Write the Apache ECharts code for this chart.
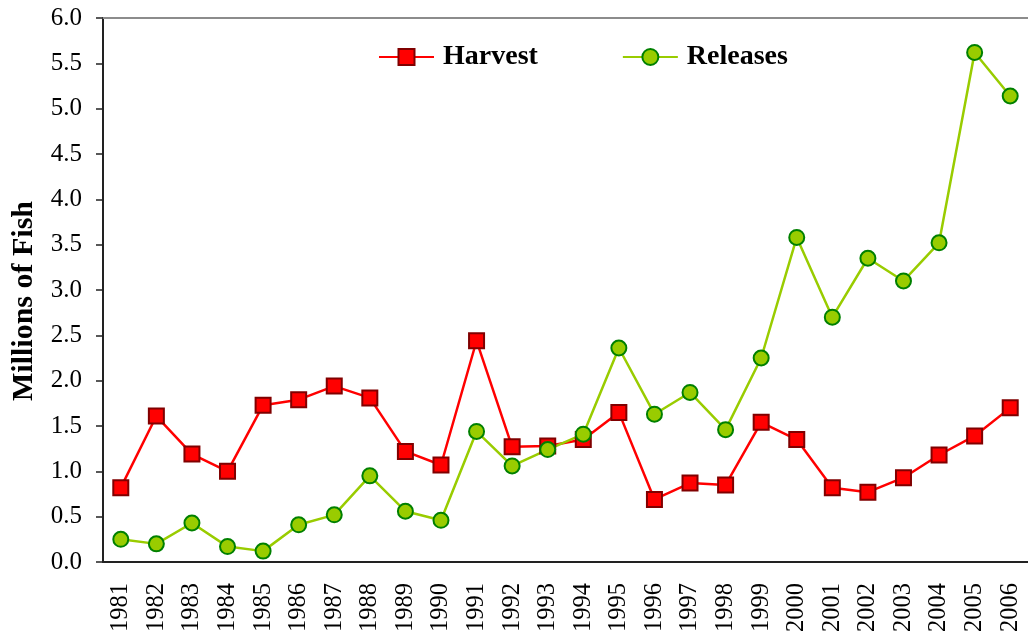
<!DOCTYPE html>
<html>
	<head>
		<meta charset="utf-8" />
		<title>Harvest and Releases</title>
		<script src="https://cdn.jsdelivr.net/npm/echarts@6/dist/echarts.min.js"></script>
		<style>
			* {
				margin: 0;
				padding: 0;
			}
			body {
				background: #fff;
			}
		</style>
	</head>
	<body>
		<div id="main" style="width: 1028px; height: 637px"></div>
		<script>
			// years on the x axis
			var years = ['1981', '1982', '1983', '1984', '1985', '1986', '1987', '1988', '1989', '1990', '1991', '1992', '1993',
				'1994', '1995', '1996', '1997', '1998', '1999', '2000', '2001', '2002', '2003', '2004', '2005', '2006'];
			// millions of fish
			var harvest = [0.82, 1.61, 1.19, 1.0, 1.73, 1.79, 1.94, 1.81, 1.22, 1.07, 2.44, 1.27, 1.28,
				1.35, 1.65, 0.69, 0.87, 0.85, 1.54, 1.35, 0.82, 0.77, 0.93, 1.18, 1.39, 1.7];
			var releases = [0.25, 0.2, 0.43, 0.17, 0.12, 0.41, 0.52, 0.95, 0.56, 0.46, 1.44, 1.06, 1.24,
				1.41, 2.36, 1.63, 1.87, 1.46, 2.25, 3.58, 2.7, 3.35, 3.1, 3.52, 5.62, 5.14];

			var font = 'Liberation Serif, Times New Roman, serif';
			var myChart = echarts.init(document.getElementById('main'));
			var option = {
				animation: false,
				textStyle: {fontFamily: font},
				grid: {
					left: 103,
					top: 18,
					right: -8,
					bottom: 75,
				},
				legend: {
					top: 43,
					left: 378,
					padding: 0,
					itemWidth: 55,
					itemHeight: 20,
					itemGap: 84,
					textStyle: {fontFamily: font, fontSize: 28, fontWeight: 'bold', color: '#000', padding: [0, 0, 0, 4]},
					data: ['Harvest', 'Releases'],
				},
				xAxis: [
					{
						type: 'category',
						data: years,
						boundaryGap: true,
						axisLine: {lineStyle: {color: '#222', width: 2}},
						axisTick: {length: 8, lineStyle: {color: '#222', width: 1.5}},
						axisLabel: {
							rotate: 90,
							margin: 21,
							interval: 0,
							fontFamily: font,
							fontSize: 24.5,
							color: '#000',
						},
					},
					{
						type: 'category',
						data: years,
						position: 'top',
						axisLine: {lineStyle: {color: '#8c8c8c', width: 2}},
						axisTick: {show: false},
						axisLabel: {show: false},
					},
				],
				yAxis: {
					type: 'value',
					min: 0,
					max: 6,
					interval: 0.5,
					name: 'Millions of Fish',
					nameLocation: 'middle',
					nameGap: 64,
					nameTextStyle: {fontFamily: font, fontSize: 30, fontWeight: 'bold', color: '#000', padding: [0, 22, 0, 0]},
					axisLine: {show: true, lineStyle: {color: '#222', width: 2}},
					axisTick: {show: true, length: 7, lineStyle: {color: '#222', width: 1.5}},
					splitLine: {show: false},
					axisLabel: {
						margin: 21,
						fontFamily: font,
						fontSize: 25,
						color: '#000',
						formatter: function (v) {
							return v.toFixed(1);
						},
					},
				},
				series: [
					{
						name: 'Harvest',
						type: 'line',
						data: harvest,
						symbol: 'rect',
						symbolSize: 15,
						lineStyle: {color: '#ff0000', width: 2.5},
						itemStyle: {color: '#ff0000', borderColor: '#800000', borderWidth: 2},
					},
					{
						name: 'Releases',
						type: 'line',
						data: releases,
						symbol: 'circle',
						symbolSize: 15,
						lineStyle: {color: '#99cc00', width: 2.5},
						itemStyle: {color: '#99cc00', borderColor: '#008000', borderWidth: 2},
					},
				],
			};
			option && myChart.setOption(option);
		</script>
	</body>
</html>
